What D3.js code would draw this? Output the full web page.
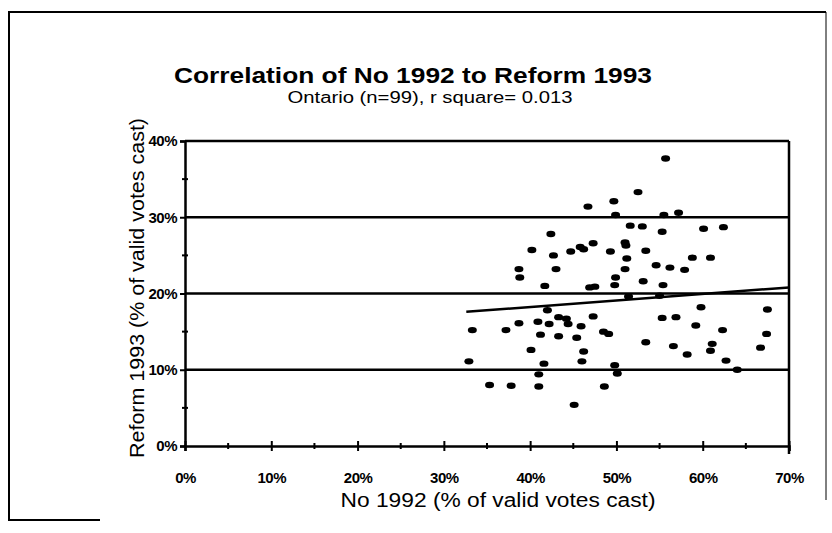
<!DOCTYPE html>
<html>
<head>
<meta charset="utf-8">
<script src="https://cdn.jsdelivr.net/npm/d3@7"></script>
<style>
    body { margin: 0; background: #fff; }
    text { font-family: Arial, "Liberation Sans", sans-serif; fill: #000; }
</style>
</head>
<body>
<div id="main"></div>
<script>
var W = 832, H = 533;

// No 1992 (% of valid votes cast), one entry per riding
var noVotes = [
    46.7, 49.7, 49.9, 42.4, 40.2, 42.7, 44.7, 45.8, 46.2, 47.3,
    49.3, 38.7, 38.8, 43.0, 41.7, 47.5, 46.9, 49.9, 49.8, 55.7,
    52.5, 55.5, 57.2, 51.6, 53.0, 55.3, 60.1, 62.4, 51.0, 51.1,
    53.4, 51.2, 58.8, 60.9, 51.0, 54.6, 56.2, 57.9, 53.1, 55.4,
    42.0, 43.3, 44.2, 44.4, 38.7, 40.9, 42.2, 47.3, 45.9, 33.3,
    37.2, 48.5, 49.1, 41.2, 43.3, 45.4, 40.1, 46.2, 32.9, 41.6,
    46.0, 49.8, 41.0, 50.1, 35.3, 37.8, 41.0, 48.6, 45.1, 55.0,
    59.8, 67.5, 55.3, 56.9, 59.2, 62.3, 67.4, 53.4, 56.6, 61.1,
    58.2, 60.9, 66.7, 62.7, 64.0, 51.4
];
// Reform 1993 (% of valid votes cast), same order
var reformVotes = [
    31.4, 32.1, 30.3, 27.8, 25.7, 25.0, 25.5, 26.1, 25.8, 26.6,
    25.5, 23.2, 22.1, 23.2, 21.0, 20.9, 20.8, 22.1, 21.1, 37.7,
    33.3, 30.3, 30.6, 28.9, 28.8, 28.1, 28.5, 28.7, 26.7, 26.3,
    25.6, 24.6, 24.7, 24.7, 23.2, 23.7, 23.4, 23.1, 21.6, 21.1,
    17.8, 16.9, 16.7, 16.0, 16.1, 16.3, 16.0, 17.0, 15.7, 15.2,
    15.2, 15.0, 14.7, 14.6, 14.4, 14.2, 12.6, 12.4, 11.1, 10.8,
    11.1, 10.6, 9.4, 9.5, 8.0, 7.9, 7.8, 7.8, 5.4, 19.7,
    18.2, 17.9, 16.8, 16.9, 15.8, 15.2, 14.7, 13.6, 13.1, 13.4,
    12.0, 12.5, 12.9, 11.2, 10.0, 19.6
];

// fitted line, read at its two ends
var trendX = [32.6, 70];
var trendY = [17.6, 20.8];

var xTicks = [0, 10, 20, 30, 40, 50, 60, 70];
var yTicks = [0, 10, 20, 30, 40];
var xMinor = [5, 15, 25, 35, 45, 55, 65];
var yMinor = [5, 15, 25, 35];

var points = noVotes.map(function (d, i) {
    return { x: d, y: reformVotes[i] };
});

var x = d3.scaleLinear().domain([0, 70]).range([185, 789]);
var y = d3.scaleLinear().domain([0, 40]).range([446, 141]);

var svg = d3.select("#main").append("svg")
    .attr("width", W)
    .attr("height", H);

// outer frame of the scanned chart
var frame = svg.append("g")
    .attr("stroke", "#000")
    .attr("stroke-width", 2);
frame.append("line").attr("x1", 9).attr("y1", 12).attr("x2", 9).attr("y2", 520);
frame.append("line").attr("x1", 8).attr("y1", 12).attr("x2", 826).attr("y2", 12);
frame.append("line").attr("x1", 826).attr("y1", 12).attr("x2", 826).attr("y2", 500).attr("stroke-width", 1);
frame.append("line").attr("x1", 8).attr("y1", 520).attr("x2", 100).attr("y2", 520);

// titles (the scan is a little wider than the font, hence textLength)
svg.append("text")
    .attr("x", 413).attr("y", 83)
    .attr("text-anchor", "middle")
    .attr("textLength", 478).attr("lengthAdjust", "spacingAndGlyphs")
    .style("font-size", "22px").style("font-weight", "bold")
    .text("Correlation of No 1992 to Reform 1993");
svg.append("text")
    .attr("x", 430).attr("y", 103)
    .attr("text-anchor", "middle")
    .attr("textLength", 285).attr("lengthAdjust", "spacingAndGlyphs")
    .style("font-size", "16px")
    .text("Ontario (n=99), r square= 0.013");

// horizontal grid lines + frame top
svg.append("g").selectAll("line")
    .data([10, 20, 30, 40])
    .enter().append("line")
    .attr("x1", x(0)).attr("x2", x(70))
    .attr("y1", function (d) { return y(d); })
    .attr("y2", function (d) { return y(d); })
    .attr("stroke", "#000").attr("stroke-width", 2.5);

// right frame side
svg.append("line")
    .attr("x1", x(70)).attr("x2", x(70))
    .attr("y1", y(40)).attr("y2", y(0) + 8)
    .attr("stroke", "#000").attr("stroke-width", 2.5);

// y axis
var yAxis = svg.append("g")
    .attr("transform", "translate(" + x(0) + ",0)")
    .call(d3.axisLeft(y).tickValues(yTicks).tickSize(5).tickPadding(3)
        .tickFormat(function (d) { return d + "%"; }));
yAxis.select(".domain").attr("stroke-width", 2.5);
yAxis.selectAll(".tick line").attr("stroke-width", 2);
yAxis.selectAll("text")
    .style("font-size", "15px").style("font-weight", "bold")
    .style("letter-spacing", "-0.5px");
svg.append("g").selectAll("line")
    .data(yMinor)
    .enter().append("line")
    .attr("x1", x(0) - 3).attr("x2", x(0) + 3)
    .attr("y1", function (d) { return y(d); })
    .attr("y2", function (d) { return y(d); })
    .attr("stroke", "#000").attr("stroke-width", 2);

// x axis
var xAxis = svg.append("g")
    .attr("transform", "translate(0," + y(0) + ")")
    .call(d3.axisBottom(x).tickValues(xTicks).tickSize(5).tickPadding(21)
        .tickFormat(function (d) { return d + "%"; }));
xAxis.select(".domain").attr("stroke-width", 2.5);
xAxis.selectAll(".tick line").attr("y1", -5).attr("stroke-width", 2);
xAxis.selectAll("text")
    .style("font-size", "15px").style("font-weight", "bold")
    .style("letter-spacing", "-0.5px");
svg.append("g").selectAll("line")
    .data(xMinor)
    .enter().append("line")
    .attr("x1", function (d) { return x(d); })
    .attr("x2", function (d) { return x(d); })
    .attr("y1", y(0) - 3).attr("y2", y(0) + 3)
    .attr("stroke", "#000").attr("stroke-width", 2);

// axis titles
svg.append("text")
    .attr("x", 498).attr("y", 507)
    .attr("text-anchor", "middle")
    .attr("textLength", 315).attr("lengthAdjust", "spacingAndGlyphs")
    .style("font-size", "20px")
    .text("No 1992 (% of valid votes cast)");
svg.append("text")
    .attr("transform", "translate(144,288) rotate(-90)")
    .attr("text-anchor", "middle")
    .attr("textLength", 340).attr("lengthAdjust", "spacingAndGlyphs")
    .style("font-size", "21px")
    .text("Reform 1993 (% of valid votes cast)");

// trend line
svg.append("line")
    .attr("x1", x(trendX[0])).attr("y1", y(trendY[0]))
    .attr("x2", x(trendX[1])).attr("y2", y(trendY[1]))
    .attr("stroke", "#000").attr("stroke-width", 2.5);

// ridings
svg.append("g").selectAll("ellipse")
    .data(points)
    .enter().append("ellipse")
    .attr("cx", function (d) { return x(d.x); })
    .attr("cy", function (d) { return y(d.y); })
    .attr("rx", 4.5).attr("ry", 3.2)
    .attr("fill", "#000");
</script>
</body>
</html>
